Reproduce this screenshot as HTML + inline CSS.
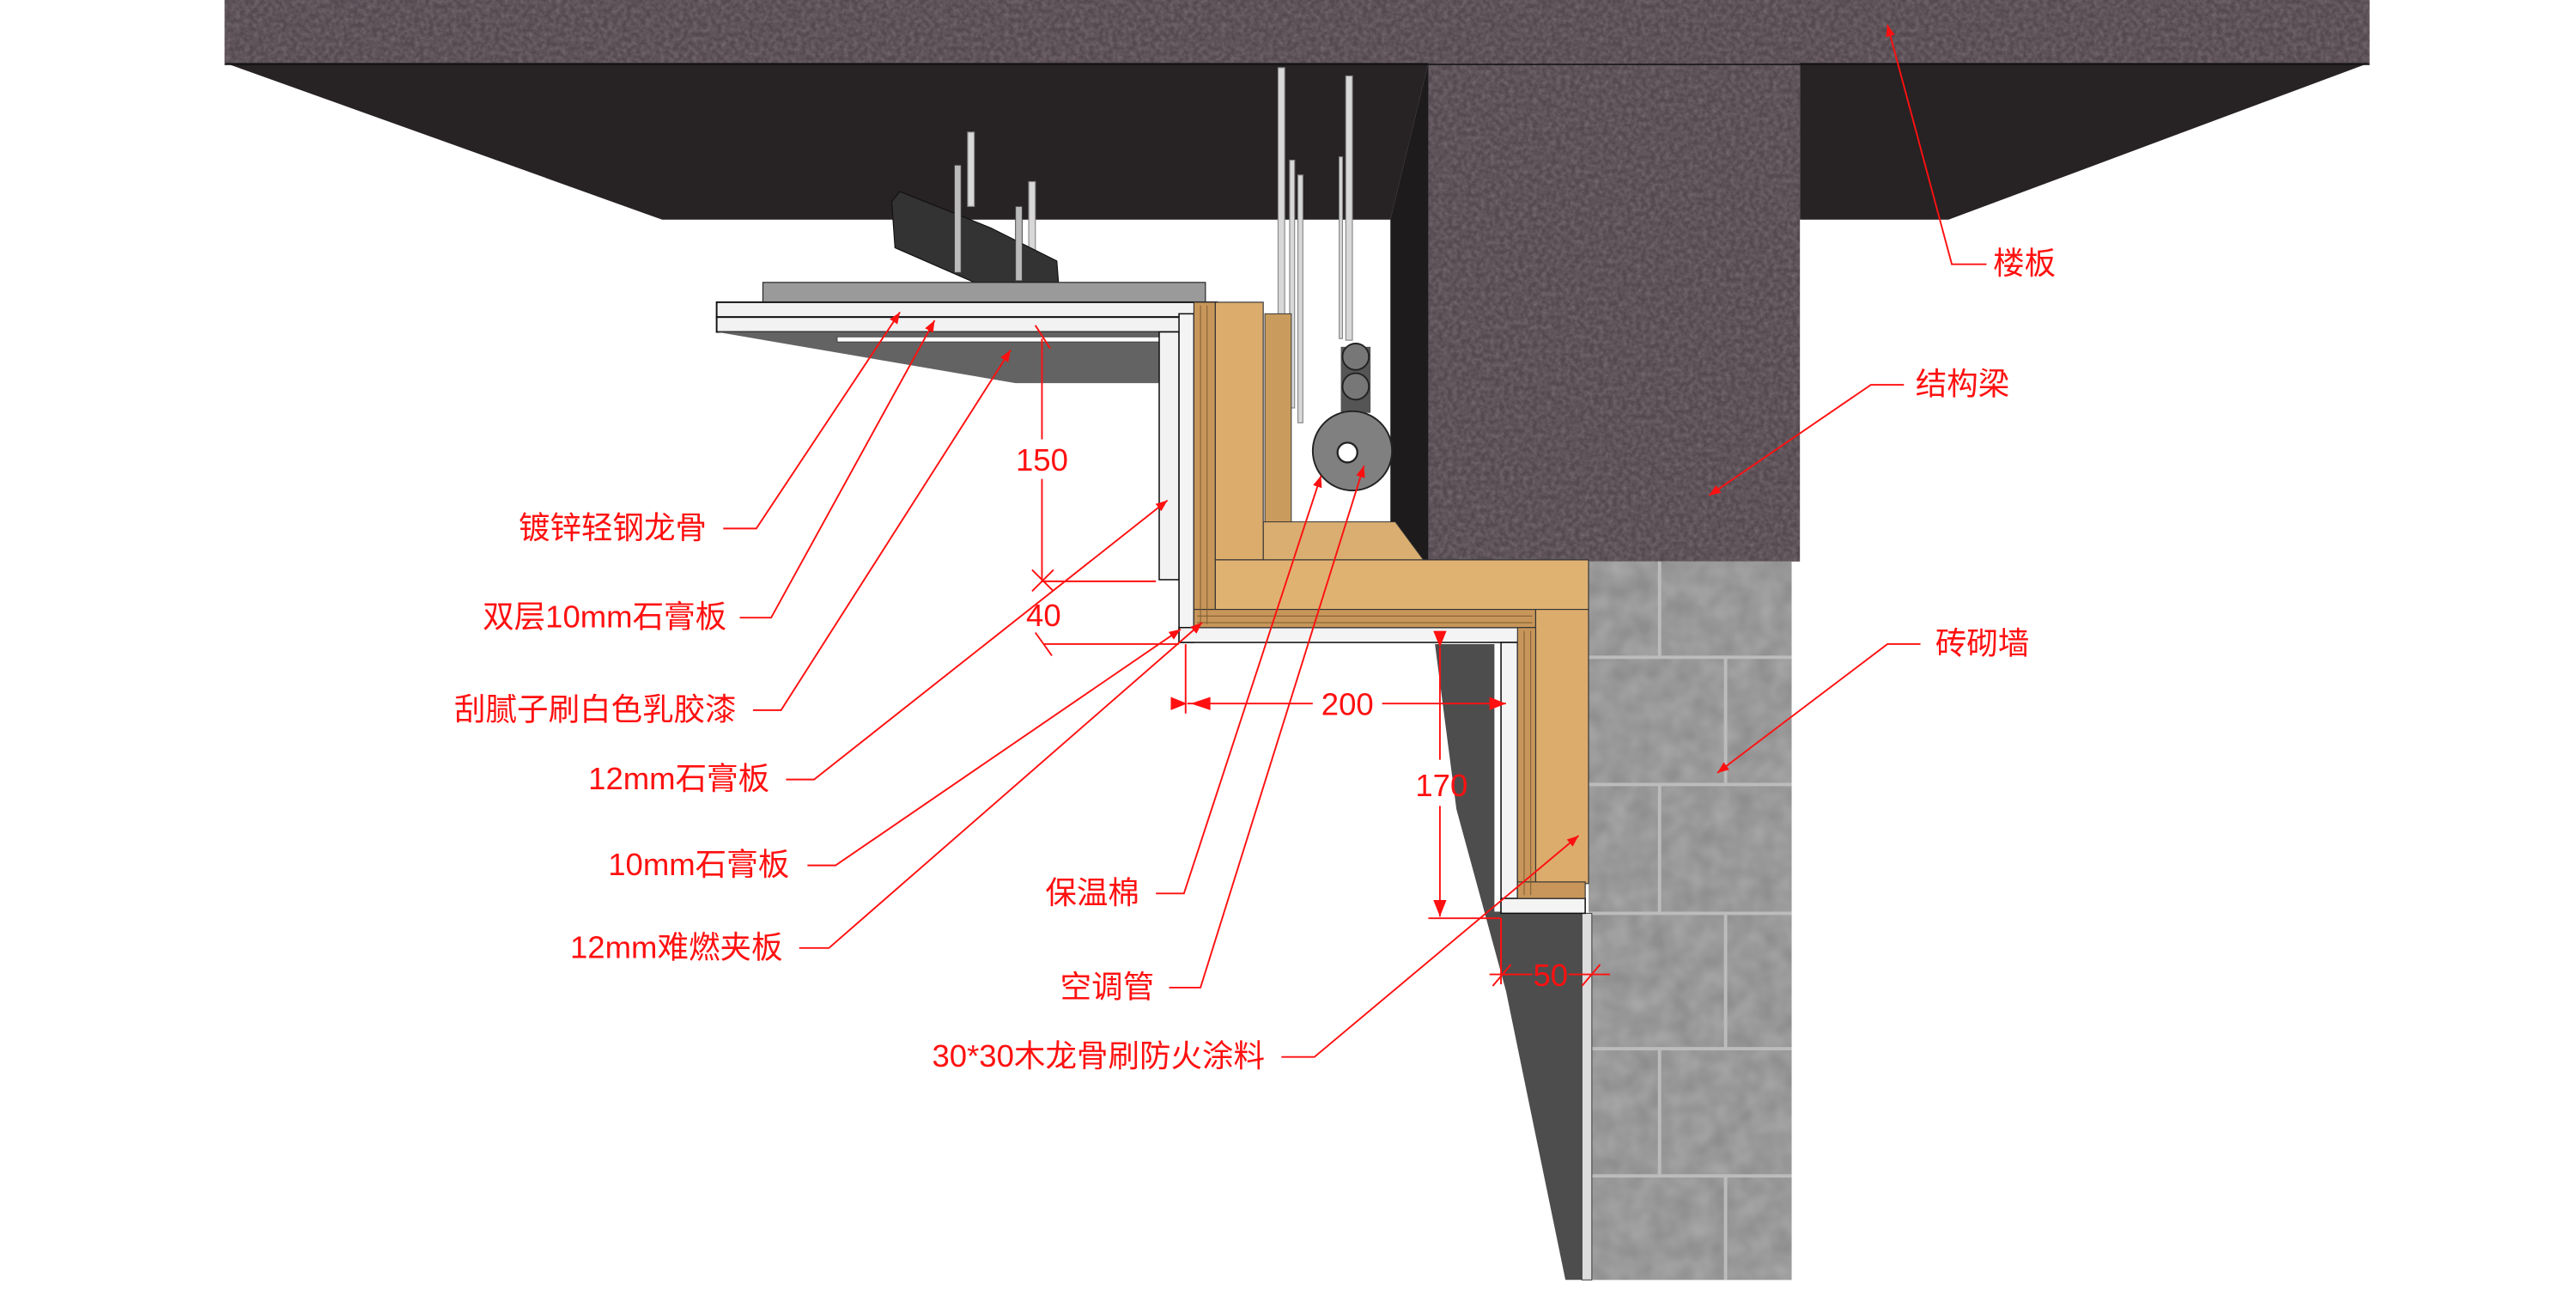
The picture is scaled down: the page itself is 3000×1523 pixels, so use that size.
<!DOCTYPE html>
<html><head><meta charset="utf-8"><style>
html,body{margin:0;padding:0;background:#fff;}
svg{display:block;}
text{font-family:"Liberation Sans","Noto Sans CJK SC",sans-serif;fill:#ff1010;}
</style></head><body>
<svg width="3000" height="1523" viewBox="0 0 1560 792" preserveAspectRatio="none" xmlns="http://www.w3.org/2000/svg">
<defs>
<filter id="n1" x="0" y="0" width="100%" height="100%">
<feTurbulence type="fractalNoise" baseFrequency="0.35" numOctaves="3" seed="3" result="t"/>
<feColorMatrix type="matrix" values="0 0 0 0 0.25  0 0 0 0 0.20  0 0 0 0 0.23  0 0 0 -1.6 1.15" in="t" result="c"/>
<feComposite in="c" in2="SourceGraphic" operator="in"/>
</filter>
<filter id="n2" x="0" y="0" width="100%" height="100%">
<feTurbulence type="fractalNoise" baseFrequency="0.08" numOctaves="2" seed="7" result="t"/>
<feColorMatrix type="matrix" values="0 0 0 0 0.56  0 0 0 0 0.56  0 0 0 0 0.56  0 0 0 -1.2 1.0" in="t" result="c"/>
<feComposite in="c" in2="SourceGraphic" operator="in"/>
</filter>
<marker id="a" viewBox="0 0 10 10" refX="10" refY="5" markerWidth="7" markerHeight="7" orient="auto" markerUnits="userSpaceOnUse"><path d="M0,1 L10,5 L0,9 z" fill="#ff1010"/></marker>
<marker id="b" viewBox="0 0 10 10" refX="10" refY="5" markerWidth="12" markerHeight="10" orient="auto" markerUnits="userSpaceOnUse"><path d="M0,1 L10,5 L0,9 z" fill="#ff1010"/></marker>
</defs>

<rect x="136" y="0" width="1299" height="39" fill="#54494f"/>
<rect x="136" y="0" width="1299" height="39" fill="#fff" filter="url(#n1)" opacity="0.6"/>
<polygon points="136,38 865,38 842,133 401,133" fill="#272224"/>
<polygon points="1090,38 1435,38 1180,133 1090,133" fill="#272224"/>
<rect x="865" y="38" width="225" height="302" fill="#54494f"/>
<rect x="865" y="38" width="225" height="302" fill="#fff" filter="url(#n1)" opacity="0.6"/>
<polygon points="865,38 865,340 842,340 842,133" fill="#1e1b1c"/>
<line x1="136" y1="39" x2="1435" y2="39" stroke="#111" stroke-width="0.8"/>

<polygon points="869,390 905,390 905,552 960,552 960,775 948,775 912,600 882,490" fill="#4d4d4d"/>
<rect x="962" y="340" width="123" height="435" fill="#8e8e8e"/>
<rect x="962" y="340" width="123" height="435" fill="#fff" filter="url(#n2)" opacity="0.5"/>
<g stroke="#bcbcbc" stroke-width="2">
<line x1="962" y1="398" x2="1085" y2="398"/><line x1="962" y1="475" x2="1085" y2="475"/><line x1="962" y1="553" x2="1085" y2="553"/><line x1="962" y1="635" x2="1085" y2="635"/><line x1="962" y1="712" x2="1085" y2="712"/>
<line x1="1005" y1="340" x2="1005" y2="398"/><line x1="1045" y1="398" x2="1045" y2="475"/><line x1="1005" y1="475" x2="1005" y2="553"/><line x1="1045" y1="553" x2="1045" y2="635"/><line x1="1005" y1="635" x2="1005" y2="712"/><line x1="1045" y1="712" x2="1045" y2="775"/>
</g>
<rect x="958" y="553" width="6" height="222" fill="#ddd" stroke="#333" stroke-width="0.5"/>

<g stroke="#888" stroke-width="0.6" fill="#d8d8d8">
<rect x="774" y="41" width="4" height="150"/><rect x="781" y="97" width="3" height="150"/><rect x="786" y="106" width="3" height="150"/>
<rect x="815" y="46" width="4" height="160"/><rect x="811" y="95" width="2" height="110"/>
<rect x="586" y="80" width="4" height="45"/><rect x="623" y="110" width="4" height="45"/>
</g>
<rect x="766" y="190" width="16" height="128" fill="#c99c5e" stroke="#333" stroke-width="0.5"/>
<polygon points="765,316 845,316 862,339 765,339" fill="#d9ae70" stroke="#333" stroke-width="0.5"/>
<rect x="812" y="210" width="18" height="40" fill="#555"/>
<circle cx="821" cy="216" r="8" fill="#777" stroke="#222" stroke-width="1"/>
<circle cx="821" cy="234" r="8" fill="#777" stroke="#222" stroke-width="1"/>
<circle cx="819" cy="273" r="24" fill="#808080" stroke="#222" stroke-width="1"/>
<circle cx="816" cy="274" r="6" fill="#fff" stroke="#222" stroke-width="1.2"/>

<polygon points="540,122 545,116 600,138 640,158 641,171 620,171 590,171 542,150" fill="#333" stroke="#111" stroke-width="0.6"/>
<rect x="578" y="100" width="4" height="65" fill="#bbb" stroke="#444" stroke-width="0.5"/>
<rect x="615" y="125" width="4" height="45" fill="#bbb" stroke="#444" stroke-width="0.5"/>
<rect x="462" y="171" width="268" height="13" fill="#9a9a9a" stroke="#222" stroke-width="0.6"/>
<rect x="434" y="183" width="303" height="9" fill="#f2f2f2" stroke="#111" stroke-width="1"/>
<rect x="434" y="192" width="303" height="9" fill="#f2f2f2" stroke="#111" stroke-width="1"/>
<polygon points="434,201 702,201 702,232 615,232" fill="#636363"/>
<rect x="507" y="204" width="195" height="3" fill="#fff" stroke="#333" stroke-width="0.4"/>
<rect x="702" y="201" width="12" height="150" fill="#f2f2f2" stroke="#111" stroke-width="0.8"/>
<rect x="714" y="190" width="9" height="199" fill="#f4f4f4" stroke="#111" stroke-width="0.8"/>
<rect x="714" y="380" width="206" height="9" fill="#f4f4f4" stroke="#111" stroke-width="0.8"/>
<rect x="909" y="389" width="10" height="163" fill="#f4f4f4" stroke="#111" stroke-width="0.8"/>
<rect x="909" y="544" width="51" height="9" fill="#f4f4f4" stroke="#111" stroke-width="0.8"/>
<g stroke="#333" stroke-width="0.6">
<rect x="723" y="183" width="13" height="197" fill="#c8965a"/>
<rect x="736" y="183" width="29" height="156" fill="#dcac6c"/>
<rect x="736" y="339" width="226" height="30" fill="#e0b272"/>
<rect x="723" y="369" width="207" height="11" fill="#c8965a"/>
<rect x="930" y="369" width="32" height="166" fill="#dcac6c"/>
<rect x="919" y="380" width="11" height="164" fill="#c8965a"/>
<rect x="919" y="534" width="41" height="10" fill="#c8965a"/>
</g>
<g stroke="#7a5a30" stroke-width="0.5">
<line x1="727" y1="185" x2="727" y2="378"/><line x1="731" y1="185" x2="731" y2="378"/>
<line x1="725" y1="373" x2="928" y2="373"/><line x1="725" y1="377" x2="928" y2="377"/>
<line x1="923" y1="382" x2="923" y2="542"/><line x1="927" y1="382" x2="927" y2="542"/>
</g>

<g stroke="#ff1010" stroke-width="1" fill="none">
<polyline points="1203,160 1182,160 1143,15" marker-end="url(#a)"/>
<polyline points="1153,233 1133,233 1035,300" marker-end="url(#a)"/>
<polyline points="1163,390 1143,390 1040,468" marker-end="url(#a)"/>
<polyline points="438,320 458,320 545,189" marker-end="url(#a)"/>
<polyline points="448,374 467,374 566,194" marker-end="url(#a)"/>
<polyline points="456,430 473,430 612,212" marker-end="url(#a)"/>
<polyline points="476,472 493,472 707,303" marker-end="url(#a)"/>
<polyline points="489,524 506,524 715,381" marker-end="url(#a)"/>
<polyline points="484,574 502,574 728,377" marker-end="url(#a)"/>
<polyline points="700,541 717,541 800,288" marker-end="url(#a)"/>
<polyline points="708,598 727,598 826,282" marker-end="url(#a)"/>
<polyline points="776,640 796,640 956,506" marker-end="url(#a)"/>
<line x1="631" y1="205" x2="631" y2="266"/><line x1="631" y1="290" x2="631" y2="352"/>
<line x1="631" y1="352" x2="700" y2="352"/>
<line x1="625" y1="345" x2="638" y2="358"/><line x1="625" y1="358" x2="638" y2="345"/>
<line x1="627" y1="197" x2="636" y2="211"/>
<line x1="632" y1="390" x2="714" y2="390"/><line x1="627" y1="383" x2="637" y2="397"/>
<line x1="718" y1="390" x2="718" y2="432"/>
<line x1="719" y1="426" x2="795" y2="426" marker-start="url(#b)"/><line x1="837" y1="426" x2="912" y2="426" marker-end="url(#b)"/>
<line x1="872" y1="392" x2="872" y2="460" marker-start="url(#b)"/><line x1="872" y1="488" x2="872" y2="555" marker-end="url(#b)"/>
<line x1="865" y1="556" x2="909" y2="556"/>
<line x1="909" y1="556" x2="909" y2="596"/>
<line x1="902" y1="590" x2="928" y2="590"/><line x1="950" y1="590" x2="975" y2="590"/>
<line x1="904" y1="597" x2="915" y2="584"/><line x1="958" y1="597" x2="969" y2="584"/>
</g>
<path d="M721,426 l12,-4 v8 z" fill="#ff1010"/>

<g font-size="19">
<text x="1207" y="166">楼板</text>
<text x="1160" y="239">结构梁</text>
<text x="1172" y="396">砖砌墙</text>
<text x="428" y="326" text-anchor="end">镀锌轻钢龙骨</text>
<text x="440" y="380" text-anchor="end">双层10mm石膏板</text>
<text x="446" y="436" text-anchor="end">刮腻子刷白色乳胶漆</text>
<text x="466" y="478" text-anchor="end">12mm石膏板</text>
<text x="478" y="530" text-anchor="end">10mm石膏板</text>
<text x="474" y="580" text-anchor="end">12mm难燃夹板</text>
<text x="690" y="547" text-anchor="end">保温棉</text>
<text x="699" y="604" text-anchor="end">空调管</text>
<text x="766" y="646" text-anchor="end">30*30木龙骨刷防火涂料</text>
<text x="631" y="285" text-anchor="middle">150</text>
<text x="632" y="379" text-anchor="middle">40</text>
<text x="816" y="433" text-anchor="middle">200</text>
<text x="873" y="482" text-anchor="middle">170</text>
<text x="939" y="597" text-anchor="middle">50</text>
</g>
</svg>
</body></html>
